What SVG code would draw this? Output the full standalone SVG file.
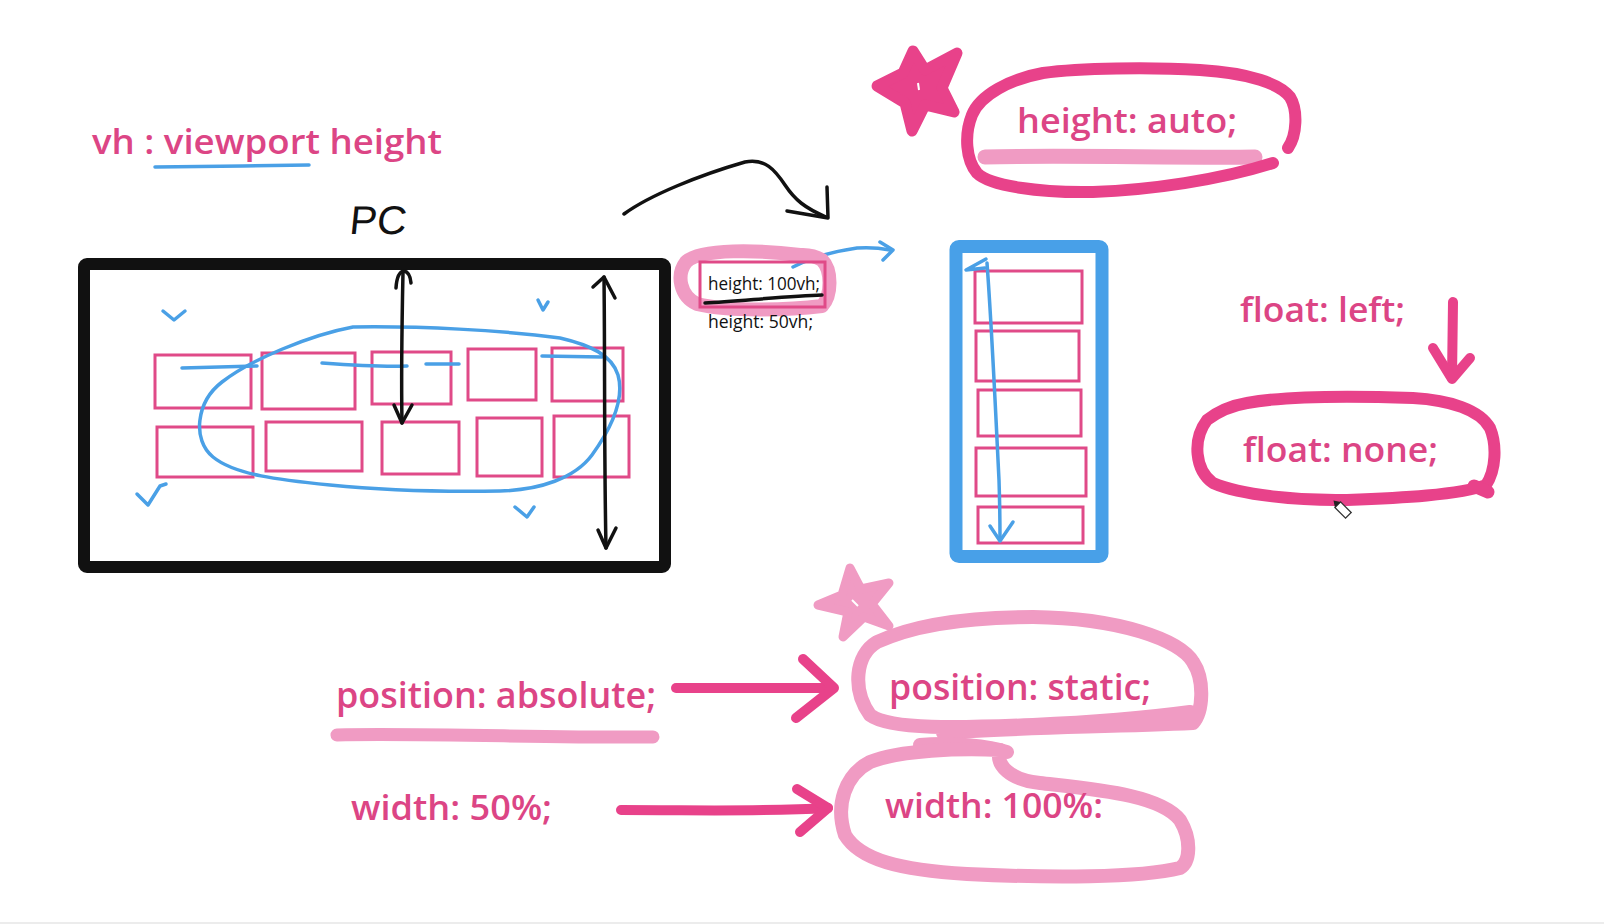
<svg xmlns="http://www.w3.org/2000/svg" width="1604" height="924" viewBox="0 0 1604 924">
<style>
.t{font-family:"Open Sans","Noto Sans",sans-serif;font-weight:600;fill:#dc4585}
.s{font-family:"Open Sans","Noto Sans",sans-serif;font-weight:400;fill:#111;font-size:18px}
.hp{fill:none;stroke:#e8428a;stroke-linecap:round;stroke-linejoin:round}
.lp{fill:none;stroke:#f09bc3;stroke-linecap:round;stroke-linejoin:round}
.bl{fill:none;stroke:#4aa0e6;stroke-width:3.5;stroke-linecap:round;stroke-linejoin:round}
.bk{fill:none;stroke:#111;stroke-width:3.5;stroke-linecap:round;stroke-linejoin:round}
.pr{fill:none;stroke:#e04a88;stroke-width:3}
</style>
<rect x="0" y="0" width="1604" height="924" fill="#fff"/>
<rect x="0" y="922" width="1604" height="2" fill="#ececec"/>

<g id="title">
<text class="t" x="92" y="154" font-size="35" textLength="350" lengthAdjust="spacingAndGlyphs">vh : viewport height</text>
<path class="bl" d="M155 167 C200 166 260 166 309 165"/>
</g>

<g id="pc-label">
<text x="349" y="234" font-family="Liberation Sans, Arial, sans-serif" font-size="40" fill="#111" textLength="57" lengthAdjust="spacingAndGlyphs" transform="skewX(-6) translate(24 0)">PC</text>
</g>

<g id="pc-screen">
<rect x="84" y="264" width="581" height="303" rx="3" fill="none" stroke="#111" stroke-width="12"/>
<g id="pc-items">
<rect class="pr" x="155" y="355" width="96" height="53"/>
<rect class="pr" x="262" y="353" width="93" height="56"/>
<rect class="pr" x="372" y="352" width="79" height="52"/>
<rect class="pr" x="468" y="349" width="68" height="51"/>
<rect class="pr" x="552" y="348" width="71" height="53"/>
<rect class="pr" x="157" y="427" width="96" height="50"/>
<rect class="pr" x="266" y="422" width="96" height="49"/>
<rect class="pr" x="382" y="422" width="77" height="52"/>
<rect class="pr" x="477" y="418" width="65" height="58"/>
<rect class="pr" x="554" y="416" width="75" height="61"/>
</g>
<g id="pc-marks">
<path class="bl" d="M353 327 C310 335 250 360 222 382 C196 402 192 440 213 457 C235 475 280 480 330 485 C380 490 440 492 500 491 C540 490 575 478 592 455 C610 430 625 400 618 375 C612 355 590 345 560 338 C500 330 420 326 353 327"/>
<path class="bl" d="M182 368 L257 366"/>
<path class="bl" d="M322 363 C350 365 380 367 407 366"/>
<path class="bl" d="M426 364 L459 364"/>
<path class="bl" d="M542 356 L602 357"/>
<path class="bl" d="M163 311 L174 320 L185 311"/>
<path class="bl" d="M538 300 L543 310 L548 302"/>
<path class="bl" d="M137 494 L148 505 L160 486 L166 484"/>
<path class="bl" d="M515 507 L527 517 L534 507"/>
<path class="bk" d="M403 272 C402 320 401 370 402 423"/>
<path class="bk" d="M396 288 Q397 272 404 271 Q410 272 411 283"/>
<path class="bk" d="M394 405 L402 423 L412 405"/>
<path class="bk" d="M604 277 C605 360 604 450 606 548"/>
<path class="bk" d="M593 287 L604 277 L615 298"/>
<path class="bk" d="M598 530 L606 548 L616 528"/>
</g>
</g>

<g id="connectors">
<path class="bk" d="M624 214 C650 195 700 175 745 162 C765 158 775 170 785 185 C795 200 805 208 826 217"/>
<path class="bk" d="M787 211 L828 218 L827 187"/>
<path class="bl" d="M793 267 C810 258 830 252 857 248 C870 247 880 248 890 250"/>
<path class="bl" d="M880 242 L893 250 L883 260"/>
<path class="hp" stroke-width="10" d="M1453 302 L1452 378"/>
<path class="hp" stroke-width="10" d="M1433 348 L1452 379 L1470 358"/>
<path class="hp" stroke-width="10" d="M676 688 L830 688"/>
<path class="hp" stroke-width="10" d="M803 659 L834 688 L796 718"/>
<path class="hp" stroke-width="10" d="M621 810 C700 810 760 812 828 808"/>
<path class="hp" stroke-width="10" d="M797 789 L828 808 L800 832"/>
</g>

<g id="height-100vh">
<path class="lp" stroke-width="14" d="M800 255 C760 250 700 248 686 262 C676 275 680 296 697 304 C730 312 790 310 822 306 C832 295 832 270 822 260 C812 254 805 255 800 255"/>
<rect class="pr" x="700" y="262" width="125" height="45" fill="none"/>
<text class="s" x="708" y="290" textLength="112" lengthAdjust="spacingAndGlyphs">height: 100vh;</text>
<path class="bk" stroke-width="3" d="M705 303 C740 301 790 296 822 295"/>
<text class="s" x="708" y="328" textLength="105" lengthAdjust="spacingAndGlyphs">height: 50vh;</text>
</g>

<g id="mobile-screen">
<rect x="956" y="246.5" width="146" height="310" rx="3" fill="none" stroke="#48a0e8" stroke-width="13"/>
<rect class="pr" x="975" y="271" width="107" height="52"/>
<rect class="pr" x="976" y="331" width="103" height="50"/>
<rect class="pr" x="978" y="390" width="103" height="46"/>
<rect class="pr" x="976" y="448" width="110" height="48"/>
<rect class="pr" x="978" y="507" width="105" height="36"/>
<path class="bl" d="M987 263 C992 330 996 420 999 480 C1000 510 1000 530 1000 540"/>
<path class="bl" d="M986 259 L966 270 L985 268"/>
<path class="bl" d="M990 526 L1000 541 L1013 522"/>
</g>

<g id="height-auto">
<path fill="#e8428a" stroke="#e8428a" stroke-width="11" stroke-linejoin="round" d="M913 51 L925 70 L957 53 L942 88 L954 112 L925 105 L912 131 L905 103 L877 86 L903 73 Z"/>
<path d="M918 83 L919 90" stroke="#fff" stroke-width="2"/>
<path class="lp" stroke-width="15" d="M985 157 C1060 155 1180 158 1255 157"/>
<path class="hp" stroke-width="12" d="M1288 148 C1297 135 1298 110 1290 97 C1280 84 1250 73 1200 70 C1150 67 1080 68 1043 73 C1010 79 980 95 972 115 C964 135 966 160 977 173 C990 186 1040 193 1093 192 C1150 190 1220 180 1273 163"/>
<text class="t" x="1017" y="133" font-size="35" textLength="220" lengthAdjust="spacingAndGlyphs">height: auto;</text>
</g>

<g id="float">
<text class="t" x="1240" y="322" font-size="35" textLength="165" lengthAdjust="spacingAndGlyphs">float: left;</text>
<path class="hp" stroke-width="12" d="M1247 403 C1280 397 1330 395 1413 398 C1450 400 1480 410 1490 428 C1497 445 1496 470 1486 485 C1460 495 1400 498 1347 500 C1300 501 1240 495 1213 483 C1195 470 1192 440 1207 420 C1220 410 1235 405 1247 403"/>
<path class="hp" stroke-width="13" d="M1474 486 L1488 492"/>
<text class="t" x="1243" y="462" font-size="35" textLength="195" lengthAdjust="spacingAndGlyphs">float: none;</text>
<g transform="translate(1342 509) rotate(-45)">
<path d="M-4 -6 L4 -6 L4 9 L-4 9 Z" fill="#fff" stroke="#333" stroke-width="1.3"/>
<path d="M-4 -6 L0 -12 L4 -6 Z" fill="#222"/>
</g>
</g>

<g id="position">
<text class="t" x="336" y="708" font-size="36" textLength="320" lengthAdjust="spacingAndGlyphs">position: absolute;</text>
<path class="lp" stroke-width="13" d="M337 735 C420 733 560 738 653 737"/>
<path fill="#f09bc3" stroke="#f09bc3" stroke-width="9" stroke-linejoin="round" d="M850 568 L861 589 L889 583 L872 604 L889 626 L864 617 L843 637 L848 612 L818 605 L842 595 Z"/>
<path d="M852 600 L858 606" stroke="#fff" stroke-width="2"/>
<path class="lp" stroke-width="14" d="M943 733 C1000 728 1100 727 1193 723 C1203 712 1205 680 1193 662 C1180 640 1120 618 1033 617 C980 617 920 622 877 642 C855 655 852 690 870 715 C890 730 960 728 1033 725 C1100 722 1160 716 1190 712"/>
<text class="t" x="889" y="700" font-size="36" textLength="262" lengthAdjust="spacingAndGlyphs">position: static;</text>
</g>

<g id="width">
<text class="t" x="351" y="820" font-size="35" textLength="201" lengthAdjust="spacingAndGlyphs">width: 50%;</text>
<path class="lp" stroke-width="14" d="M920 745 C950 742 990 746 1007 752"/>
<path class="lp" stroke-width="14" d="M1000 750 C995 765 1010 780 1040 783 C1100 790 1160 795 1180 820 C1192 840 1190 862 1180 868 C1140 878 1050 878 967 874 C900 870 860 860 845 835 C835 805 845 775 870 762 C900 750 960 748 1000 750"/>
<text class="t" x="885" y="818" font-size="35" textLength="218" lengthAdjust="spacingAndGlyphs">width: 100%:</text>
</g>
</svg>
